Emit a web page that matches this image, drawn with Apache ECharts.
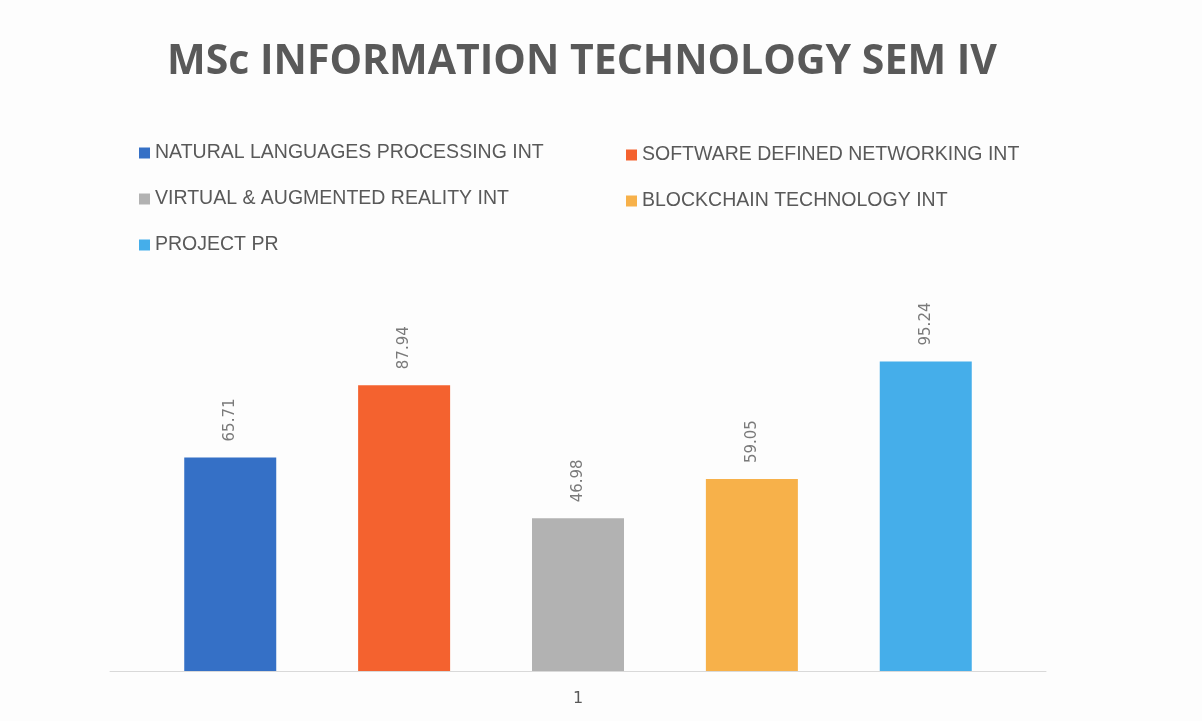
<!DOCTYPE html>
<html>
<head>
<meta charset="utf-8">
<script src="https://cdn.jsdelivr.net/npm/echarts@6/dist/echarts.min.js"></script>
<style>
html,body{margin:0;padding:0;background:#fdfdfd;}
#main{width:1202px;height:721px;}
</style>
</head>
<body>
<div id="main"></div>
<script>
// subjects and their results
const categories = ['1'];
const seriesNames = [
    'NATURAL LANGUAGES PROCESSING INT',
    'SOFTWARE DEFINED NETWORKING INT',
    'VIRTUAL & AUGMENTED REALITY INT',
    'BLOCKCHAIN TECHNOLOGY INT',
    'PROJECT PR'
];
const seriesValues = [65.71, 87.94, 46.98, 59.05, 95.24];
const seriesColors = ['#3570c6', '#f4622f', '#b2b2b2', '#f7b14a', '#45aeea'];

let myChart = echarts.init(document.getElementById('main'));

let series = [];
for (let i = 0; i < seriesNames.length; i++) {
    series.push({
        name: seriesNames[i],
        type: 'bar',
        data: [seriesValues[i]],
        barWidth: 92,
        barGap: '89%',
        itemStyle: { color: seriesColors[i] },
        label: {
            show: true,
            position: 'top',
            rotate: 90,
            align: 'left',
            verticalAlign: 'middle',
            distance: 16,
            color: '#7a7a7a',
            fontFamily: 'DejaVu Sans',
            fontSize: 15,
            formatter: function (p) { return p.value.toFixed(2); }
        }
    });
}

let legendText = {
    color: '#595959',
    fontFamily: '"Liberation Sans", sans-serif',
    fontSize: 19.5
};

let option = {
    animation: false,
    backgroundColor: '#fdfdfd',
    title: {
        text: 'MSc INFORMATION TECHNOLOGY SEM IV',
        left: 162,
        top: 37,
        textStyle: {
            color: '#595959',
            fontFamily: '"Open Sans", sans-serif',
            fontWeight: 'bold',
            fontSize: 41
        }
    },
    legend: [
        {
            data: [seriesNames[0], seriesNames[2], seriesNames[4]],
            orient: 'vertical',
            left: 134,
            top: 138,
            itemWidth: 11,
            itemHeight: 11,
            itemGap: 26,
            icon: 'rect',
            textStyle: legendText
        },
        {
            data: [seriesNames[1], seriesNames[3]],
            orient: 'vertical',
            left: 621,
            top: 140,
            itemWidth: 11,
            itemHeight: 11,
            itemGap: 26,
            icon: 'rect',
            textStyle: legendText
        }
    ],
    grid: {
        left: 110,
        right: 156,
        top: 346,
        bottom: 50
    },
    xAxis: {
        type: 'category',
        data: categories,
        axisLine: { lineStyle: { color: '#d9d9d9' } },
        axisTick: { show: false },
        axisLabel: {
            color: '#595959',
            fontFamily: 'DejaVu Sans',
            fontSize: 16,
            margin: 20
        }
    },
    yAxis: {
        type: 'value',
        min: 0,
        max: 100,
        show: false,
        splitLine: { show: false }
    },
    series: series
};

myChart.setOption(option);
</script>
</body>
</html>
